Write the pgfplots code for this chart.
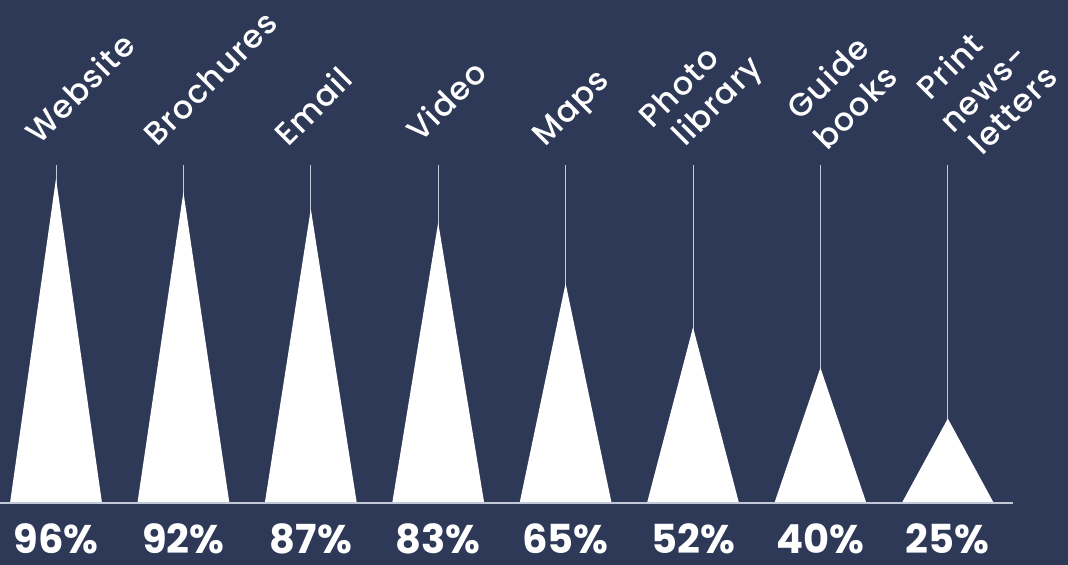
\documentclass[border=0pt]{standalone}
\usepackage{pgfplots}
\pgfplotsset{compat=1.18}
\usepackage{fontspec}
\setmainfont{Poppins}
\newfontfamily\lab{Poppins}[UprightFont={* Medium},LetterSpace=4]
\definecolor{bg}{HTML}{2E3958}
\definecolor{stem}{HTML}{C3C8D8}
\tikzset{
  lab/.style={anchor=base west,rotate=45,text=white,inner sep=0pt,font=\lab\fontsize{16}{20}\selectfont},
  pct/.style={anchor=base,text=white,inner sep=0pt,font=\bfseries\fontsize{20}{24}\selectfont}}
\begin{document}
\begin{tikzpicture}
\fill[bg] (0,0) rectangle (534pt,282.5pt);
\begin{axis}[at={(0,0)},anchor=south west,
  width=534pt,height=282.5pt,scale only axis,
  xmin=-0.4396,xmax=7.9435,ymin=-18.34,ymax=148.82,
  axis lines=none, clip=false]
% stems
\addplot[ycomb, draw=stem, line width=0.5pt, mark=none] coordinates {(0,100)(1,100)(2,100)(3,100)(4,100)(5,100)(6,100)(7,100)};
% triangles
\addplot[fill=white, draw=none] coordinates {(-0.361,0)(0,96)(0.361,0)} -- cycle;
\addplot[fill=white, draw=none] coordinates {(0.639,0)(1,92)(1.361,0)} -- cycle;
\addplot[fill=white, draw=none] coordinates {(1.639,0)(2,87)(2.361,0)} -- cycle;
\addplot[fill=white, draw=none] coordinates {(2.639,0)(3,83)(3.361,0)} -- cycle;
\addplot[fill=white, draw=none] coordinates {(3.639,0)(4,65)(4.361,0)} -- cycle;
\addplot[fill=white, draw=none] coordinates {(4.639,0)(5,52)(5.361,0)} -- cycle;
\addplot[fill=white, draw=none] coordinates {(5.639,0)(6,40)(6.361,0)} -- cycle;
\addplot[fill=white, draw=none] coordinates {(6.639,0)(7,25)(7.361,0)} -- cycle;
\draw[stem, line width=0.75pt] (axis cs:-0.4396,0) -- (axis cs:7.51,0);
% percentages
\node[pct] at (axis cs:0,-14.8) {96\%};
\node[pct] at (axis cs:1,-14.8) {92\%};
\node[pct] at (axis cs:2,-14.8) {87\%};
\node[pct] at (axis cs:3,-14.8) {83\%};
\node[pct] at (axis cs:4,-14.8) {65\%};
\node[pct] at (axis cs:5,-14.8) {52\%};
\node[pct] at (axis cs:6,-14.8) {40\%};
\node[pct] at (axis cs:7,-14.8) {25\%};
% category labels
\node[lab] at (axis cs:-0.133,105.6) {Website};
\node[lab] at (axis cs:0.793,105.0) {Brochures};
\node[lab] at (axis cs:1.821,105.0) {Email};
\node[lab] at (axis cs:2.857,106.2) {Video};
\node[lab] at (axis cs:3.838,105.0) {Maps};
\node[lab] at (axis cs:4.678,110.4) {Photo};
\node[lab] at (axis cs:4.937,105.0) {library};
\node[lab] at (axis cs:5.840,112.7) {Guide};
\node[lab] at (axis cs:6.052,103.8) {books};
\node[lab] at (axis cs:6.860,118.6) {Print};
\node[lab] at (axis cs:7.041,108.9) {news-};
\node[lab] at (axis cs:7.268,102.4) {letters};
\end{axis}
\pgfresetboundingbox
\path[use as bounding box] (0,0) rectangle (534pt,282.5pt);
\end{tikzpicture}
\end{document}
